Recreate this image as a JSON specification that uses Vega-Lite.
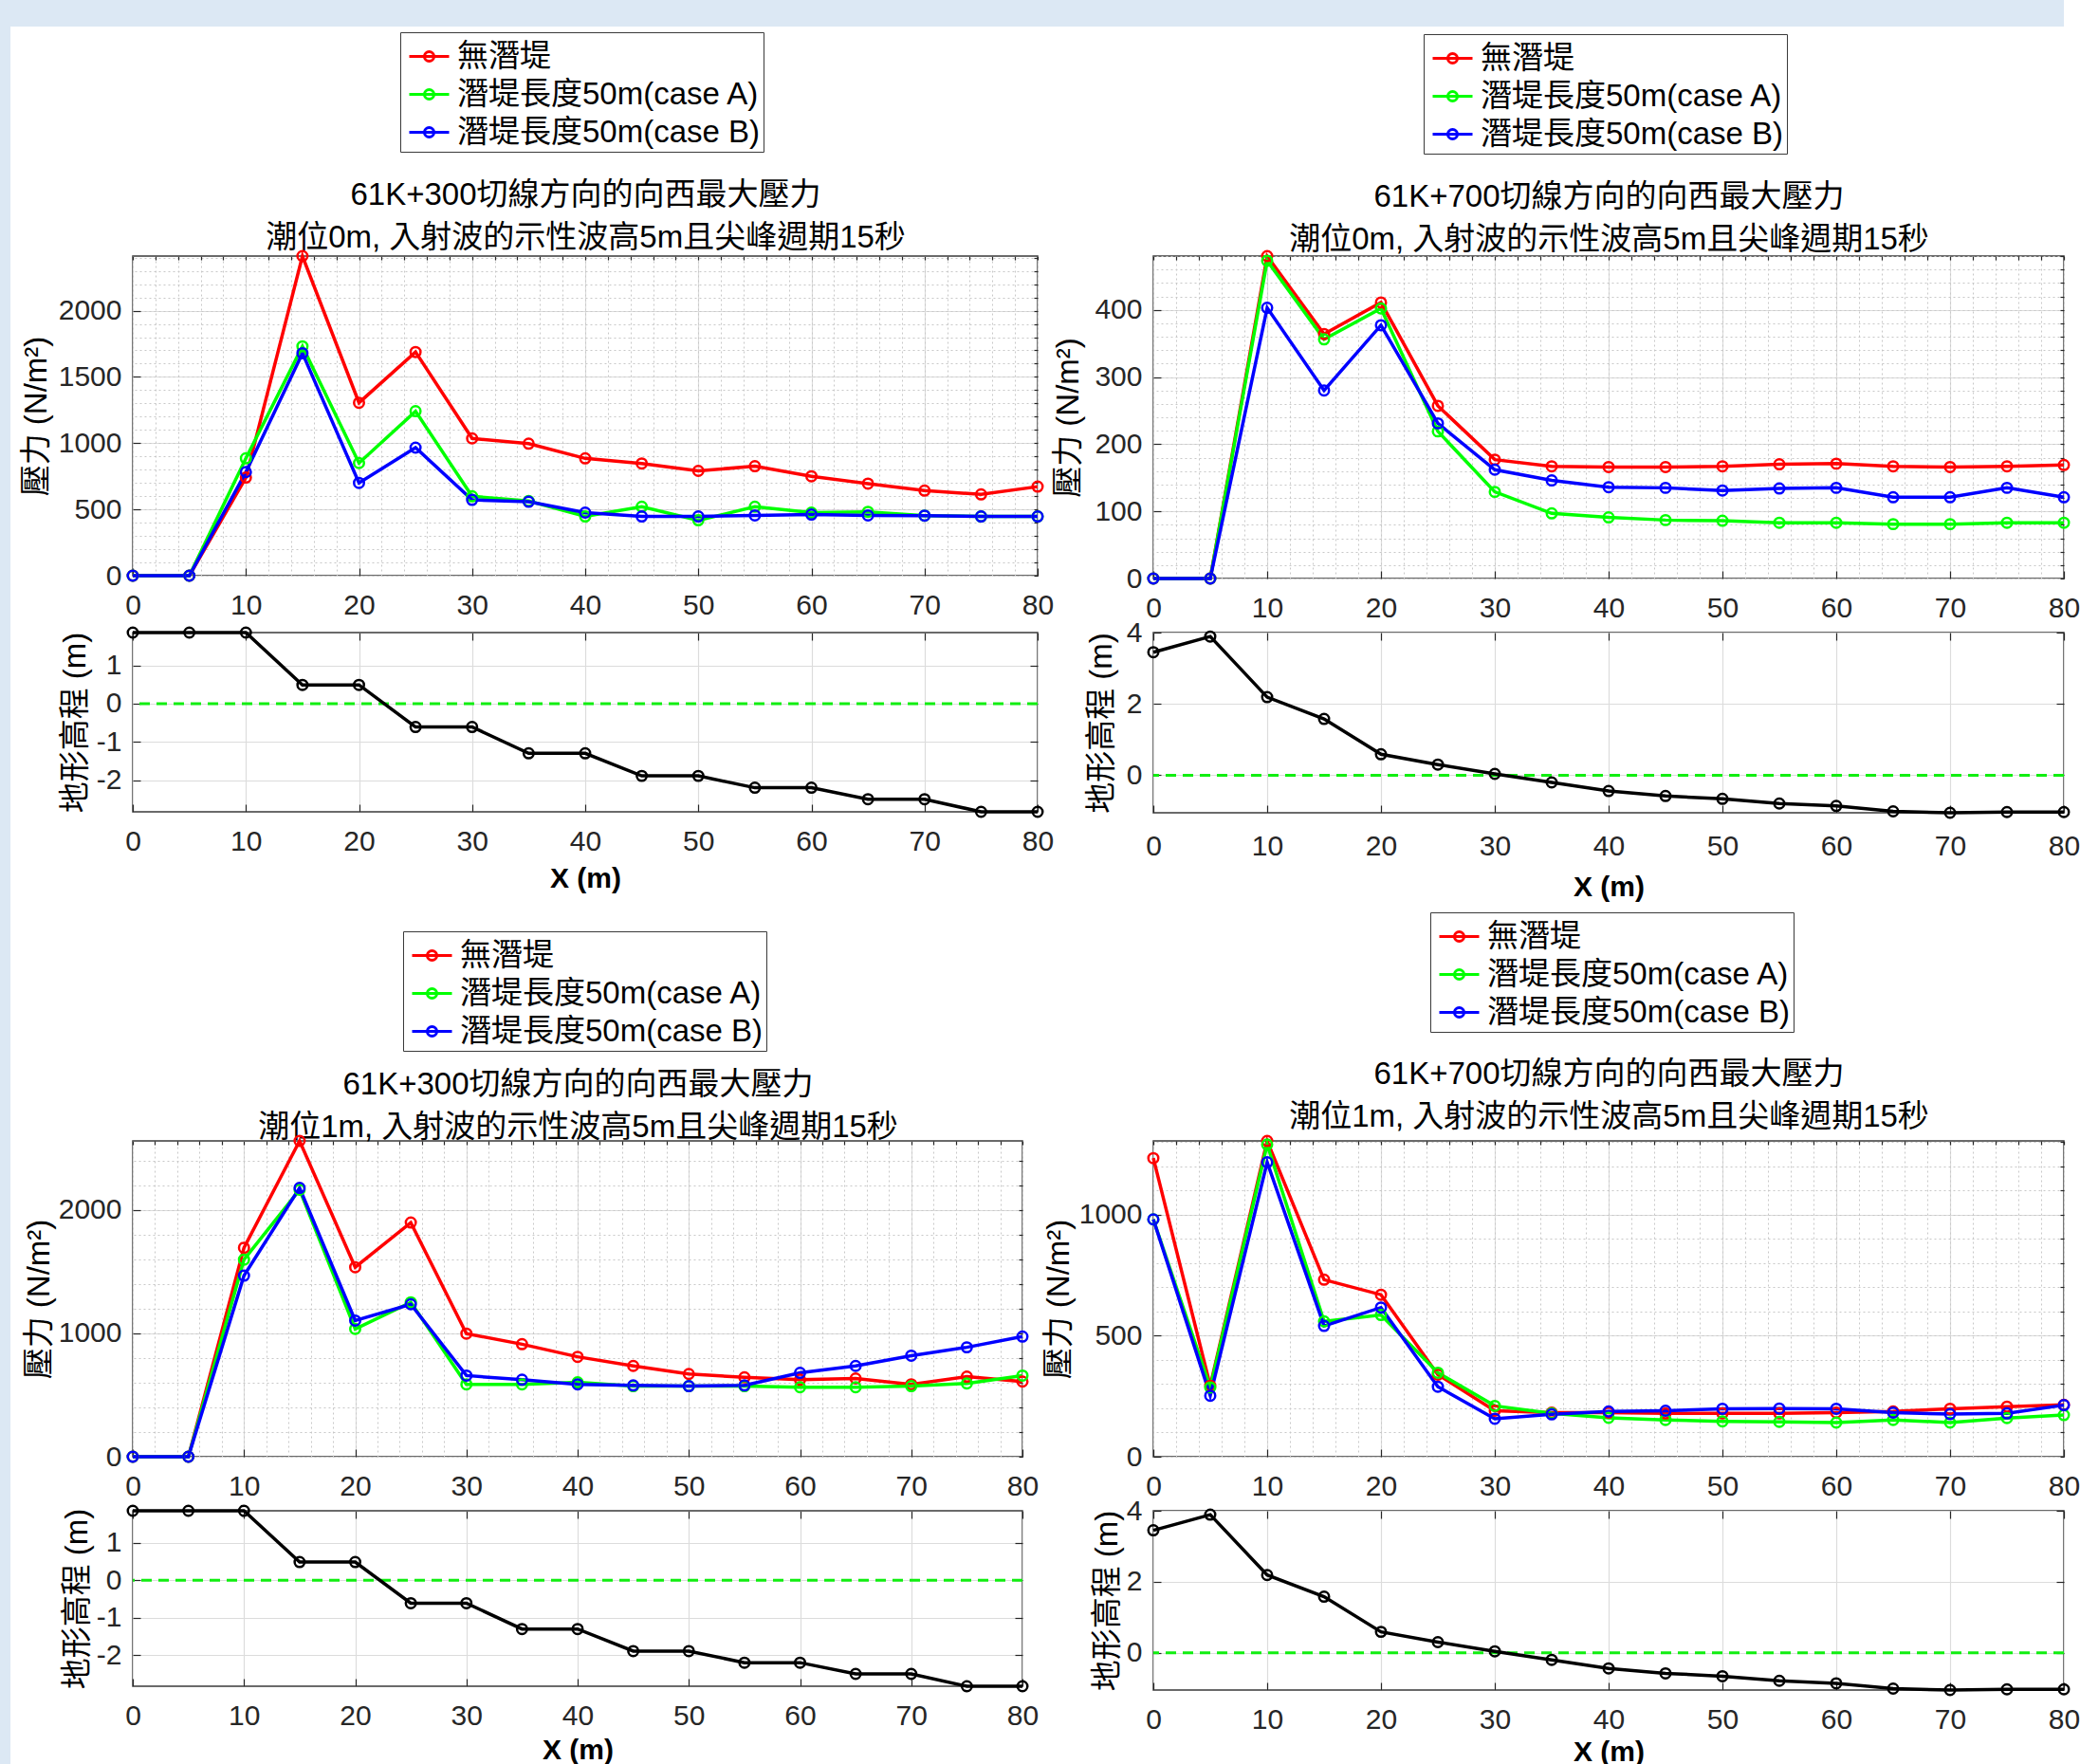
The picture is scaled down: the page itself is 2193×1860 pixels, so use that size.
{
"$schema": "https://vega.github.io/schema/vega-lite/v6.json",
"padding": 0,
"background": "#ffffff",
"columns": 5,
"align": "none",
"bounds": "flush",
"spacing": {"row": 0, "column": 0},
"resolve": {"scale": {"color": "independent"}, "legend": {"color": "independent"}},
"datasets": {
"pTL": [
{"x":0,"s":"無潛堤","v":0},{"x":5,"s":"無潛堤","v":0},{"x":10,"s":"無潛堤","v":740},{"x":15,"s":"無潛堤","v":2412},{"x":20,"s":"無潛堤","v":1305},{"x":25,"s":"無潛堤","v":1688},{"x":30,"s":"無潛堤","v":1036},{"x":35,"s":"無潛堤","v":996},{"x":40,"s":"無潛堤","v":885},{"x":45,"s":"無潛堤","v":847},{"x":50,"s":"無潛堤","v":791},{"x":55,"s":"無潛堤","v":826},{"x":60,"s":"無潛堤","v":750},{"x":65,"s":"無潛堤","v":695},{"x":70,"s":"無潛堤","v":642},{"x":75,"s":"無潛堤","v":613},{"x":80,"s":"無潛堤","v":672},
{"x":0,"s":"潛堤長度50m(case A)","v":0},{"x":5,"s":"潛堤長度50m(case A)","v":0},{"x":10,"s":"潛堤長度50m(case A)","v":885},{"x":15,"s":"潛堤長度50m(case A)","v":1731},{"x":20,"s":"潛堤長度50m(case A)","v":850},{"x":25,"s":"潛堤長度50m(case A)","v":1241},{"x":30,"s":"潛堤長度50m(case A)","v":599},{"x":35,"s":"潛堤長度50m(case A)","v":563},{"x":40,"s":"潛堤長度50m(case A)","v":447},{"x":45,"s":"潛堤長度50m(case A)","v":520},{"x":50,"s":"潛堤長度50m(case A)","v":418},{"x":55,"s":"潛堤長度50m(case A)","v":520},{"x":60,"s":"潛堤長度50m(case A)","v":476},{"x":65,"s":"潛堤長度50m(case A)","v":482},{"x":70,"s":"潛堤長度50m(case A)","v":453},{"x":75,"s":"潛堤長度50m(case A)","v":447},{"x":80,"s":"潛堤長度50m(case A)","v":447},
{"x":0,"s":"潛堤長度50m(case B)","v":0},{"x":5,"s":"潛堤長度50m(case B)","v":0},{"x":10,"s":"潛堤長度50m(case B)","v":782},{"x":15,"s":"潛堤長度50m(case B)","v":1679},{"x":20,"s":"潛堤長度50m(case B)","v":700},{"x":25,"s":"潛堤長度50m(case B)","v":966},{"x":30,"s":"潛堤長度50m(case B)","v":572},{"x":35,"s":"潛堤長度50m(case B)","v":558},{"x":40,"s":"潛堤長度50m(case B)","v":476},{"x":45,"s":"潛堤長度50m(case B)","v":447},{"x":50,"s":"潛堤長度50m(case B)","v":447},{"x":55,"s":"潛堤長度50m(case B)","v":455},{"x":60,"s":"潛堤長度50m(case B)","v":461},{"x":65,"s":"潛堤長度50m(case B)","v":455},{"x":70,"s":"潛堤長度50m(case B)","v":453},{"x":75,"s":"潛堤長度50m(case B)","v":447},{"x":80,"s":"潛堤長度50m(case B)","v":447}
],
"pTR": [
{"x":0,"s":"無潛堤","v":0},{"x":5,"s":"無潛堤","v":0},{"x":10,"s":"無潛堤","v":480},{"x":15,"s":"無潛堤","v":364},{"x":20,"s":"無潛堤","v":411},{"x":25,"s":"無潛堤","v":257},{"x":30,"s":"無潛堤","v":177},{"x":35,"s":"無潛堤","v":167},{"x":40,"s":"無潛堤","v":166},{"x":45,"s":"無潛堤","v":166},{"x":50,"s":"無潛堤","v":167},{"x":55,"s":"無潛堤","v":170},{"x":60,"s":"無潛堤","v":171},{"x":65,"s":"無潛堤","v":167},{"x":70,"s":"無潛堤","v":166},{"x":75,"s":"無潛堤","v":167},{"x":80,"s":"無潛堤","v":169},
{"x":0,"s":"潛堤長度50m(case A)","v":0},{"x":5,"s":"潛堤長度50m(case A)","v":0},{"x":10,"s":"潛堤長度50m(case A)","v":473},{"x":15,"s":"潛堤長度50m(case A)","v":356},{"x":20,"s":"潛堤長度50m(case A)","v":402},{"x":25,"s":"潛堤長度50m(case A)","v":219},{"x":30,"s":"潛堤長度50m(case A)","v":129},{"x":35,"s":"潛堤長度50m(case A)","v":97},{"x":40,"s":"潛堤長度50m(case A)","v":91},{"x":45,"s":"潛堤長度50m(case A)","v":87},{"x":50,"s":"潛堤長度50m(case A)","v":86},{"x":55,"s":"潛堤長度50m(case A)","v":83},{"x":60,"s":"潛堤長度50m(case A)","v":83},{"x":65,"s":"潛堤長度50m(case A)","v":81},{"x":70,"s":"潛堤長度50m(case A)","v":81},{"x":75,"s":"潛堤長度50m(case A)","v":83},{"x":80,"s":"潛堤長度50m(case A)","v":83},
{"x":0,"s":"潛堤長度50m(case B)","v":0},{"x":5,"s":"潛堤長度50m(case B)","v":0},{"x":10,"s":"潛堤長度50m(case B)","v":403},{"x":15,"s":"潛堤長度50m(case B)","v":280},{"x":20,"s":"潛堤長度50m(case B)","v":377},{"x":25,"s":"潛堤長度50m(case B)","v":231},{"x":30,"s":"潛堤長度50m(case B)","v":162},{"x":35,"s":"潛堤長度50m(case B)","v":146},{"x":40,"s":"潛堤長度50m(case B)","v":136},{"x":45,"s":"潛堤長度50m(case B)","v":135},{"x":50,"s":"潛堤長度50m(case B)","v":131},{"x":55,"s":"潛堤長度50m(case B)","v":134},{"x":60,"s":"潛堤長度50m(case B)","v":135},{"x":65,"s":"潛堤長度50m(case B)","v":121},{"x":70,"s":"潛堤長度50m(case B)","v":121},{"x":75,"s":"潛堤長度50m(case B)","v":135},{"x":80,"s":"潛堤長度50m(case B)","v":121}
],
"pBL": [
{"x":0,"s":"無潛堤","v":0},{"x":5,"s":"無潛堤","v":0},{"x":10,"s":"無潛堤","v":1694},{"x":15,"s":"無潛堤","v":2560},{"x":20,"s":"無潛堤","v":1536},{"x":25,"s":"無潛堤","v":1898},{"x":30,"s":"無潛堤","v":998},{"x":35,"s":"無潛堤","v":912},{"x":40,"s":"無潛堤","v":810},{"x":45,"s":"無潛堤","v":736},{"x":50,"s":"無潛堤","v":671},{"x":55,"s":"無潛堤","v":643},{"x":60,"s":"無潛堤","v":624},{"x":65,"s":"無潛堤","v":634},{"x":70,"s":"無潛堤","v":587},{"x":75,"s":"無潛堤","v":649},{"x":80,"s":"無潛堤","v":609},
{"x":0,"s":"潛堤長度50m(case A)","v":0},{"x":5,"s":"潛堤長度50m(case A)","v":0},{"x":10,"s":"潛堤長度50m(case A)","v":1598},{"x":15,"s":"潛堤長度50m(case A)","v":2164},{"x":20,"s":"潛堤長度50m(case A)","v":1036},{"x":25,"s":"潛堤長度50m(case A)","v":1252},{"x":30,"s":"潛堤長度50m(case A)","v":587},{"x":35,"s":"潛堤長度50m(case A)","v":587},{"x":40,"s":"潛堤長度50m(case A)","v":603},{"x":45,"s":"潛堤長度50m(case A)","v":572},{"x":50,"s":"潛堤長度50m(case A)","v":572},{"x":55,"s":"潛堤長度50m(case A)","v":572},{"x":60,"s":"潛堤長度50m(case A)","v":563},{"x":65,"s":"潛堤長度50m(case A)","v":563},{"x":70,"s":"潛堤長度50m(case A)","v":572},{"x":75,"s":"潛堤長度50m(case A)","v":594},{"x":80,"s":"潛堤長度50m(case A)","v":658},
{"x":0,"s":"潛堤長度50m(case B)","v":0},{"x":5,"s":"潛堤長度50m(case B)","v":0},{"x":10,"s":"潛堤長度50m(case B)","v":1468},{"x":15,"s":"潛堤長度50m(case B)","v":2179},{"x":20,"s":"潛堤長度50m(case B)","v":1104},{"x":25,"s":"潛堤長度50m(case B)","v":1236},{"x":30,"s":"潛堤長度50m(case B)","v":658},{"x":35,"s":"潛堤長度50m(case B)","v":624},{"x":40,"s":"潛堤長度50m(case B)","v":587},{"x":45,"s":"潛堤長度50m(case B)","v":578},{"x":50,"s":"潛堤長度50m(case B)","v":572},{"x":55,"s":"潛堤長度50m(case B)","v":578},{"x":60,"s":"潛堤長度50m(case B)","v":680},{"x":65,"s":"潛堤長度50m(case B)","v":736},{"x":70,"s":"潛堤長度50m(case B)","v":819},{"x":75,"s":"潛堤長度50m(case B)","v":887},{"x":80,"s":"潛堤長度50m(case B)","v":974}
],
"pBR": [
{"x":0,"s":"無潛堤","v":1233},{"x":5,"s":"無潛堤","v":293},{"x":10,"s":"無潛堤","v":1304},{"x":15,"s":"無潛堤","v":731},{"x":20,"s":"無潛堤","v":669},{"x":25,"s":"無潛堤","v":339},{"x":30,"s":"無潛堤","v":190},{"x":35,"s":"無潛堤","v":182},{"x":40,"s":"無潛堤","v":182},{"x":45,"s":"無潛堤","v":179},{"x":50,"s":"無潛堤","v":179},{"x":55,"s":"無潛堤","v":179},{"x":60,"s":"無潛堤","v":182},{"x":65,"s":"無潛堤","v":187},{"x":70,"s":"無潛堤","v":198},{"x":75,"s":"無潛堤","v":207},{"x":80,"s":"無潛堤","v":214},
{"x":0,"s":"潛堤長度50m(case A)","v":980},{"x":5,"s":"潛堤長度50m(case A)","v":286},{"x":10,"s":"潛堤長度50m(case A)","v":1289},{"x":15,"s":"潛堤長度50m(case A)","v":559},{"x":20,"s":"潛堤長度50m(case A)","v":585},{"x":25,"s":"潛堤長度50m(case A)","v":347},{"x":30,"s":"潛堤長度50m(case A)","v":210},{"x":35,"s":"潛堤長度50m(case A)","v":179},{"x":40,"s":"潛堤長度50m(case A)","v":161},{"x":45,"s":"潛堤長度50m(case A)","v":152},{"x":50,"s":"潛堤長度50m(case A)","v":146},{"x":55,"s":"潛堤長度50m(case A)","v":144},{"x":60,"s":"潛堤長度50m(case A)","v":141},{"x":65,"s":"潛堤長度50m(case A)","v":152},{"x":70,"s":"潛堤長度50m(case A)","v":141},{"x":75,"s":"潛堤長度50m(case A)","v":160},{"x":80,"s":"潛堤長度50m(case A)","v":172},
{"x":0,"s":"潛堤長度50m(case B)","v":980},{"x":5,"s":"潛堤長度50m(case B)","v":252},{"x":10,"s":"潛堤長度50m(case B)","v":1216},{"x":15,"s":"潛堤長度50m(case B)","v":540},{"x":20,"s":"潛堤長度50m(case B)","v":616},{"x":25,"s":"潛堤長度50m(case B)","v":289},{"x":30,"s":"潛堤長度50m(case B)","v":157},{"x":35,"s":"潛堤長度50m(case B)","v":175},{"x":40,"s":"潛堤長度50m(case B)","v":187},{"x":45,"s":"潛堤長度50m(case B)","v":190},{"x":50,"s":"潛堤長度50m(case B)","v":198},{"x":55,"s":"潛堤長度50m(case B)","v":199},{"x":60,"s":"潛堤長度50m(case B)","v":198},{"x":65,"s":"潛堤長度50m(case B)","v":182},{"x":70,"s":"潛堤長度50m(case B)","v":176},{"x":75,"s":"潛堤長度50m(case B)","v":179},{"x":80,"s":"潛堤長度50m(case B)","v":213}
],
"tL": [
{"x":0,"z":1.86},{"x":5,"z":1.86},{"x":10,"z":1.86},{"x":15,"z":0.49},{"x":20,"z":0.49},{"x":25,"z":-0.61},{"x":30,"z":-0.61},{"x":35,"z":-1.3},{"x":40,"z":-1.3},{"x":45,"z":-1.89},{"x":50,"z":-1.89},{"x":55,"z":-2.2},{"x":60,"z":-2.2},{"x":65,"z":-2.5},{"x":70,"z":-2.5},{"x":75,"z":-2.83},{"x":80,"z":-2.83}
],
"tR": [
{"x":0,"z":3.45},{"x":5,"z":3.89},{"x":10,"z":2.19},{"x":15,"z":1.58},{"x":20,"z":0.59},{"x":25,"z":0.3},{"x":30,"z":0.04},{"x":35,"z":-0.2},{"x":40,"z":-0.44},{"x":45,"z":-0.58},{"x":50,"z":-0.66},{"x":55,"z":-0.79},{"x":60,"z":-0.86},{"x":65,"z":-1.01},{"x":70,"z":-1.05},{"x":75,"z":-1.03},{"x":80,"z":-1.03}
],
"zero": [{"z": 0}]
},
"concat": [
{"width":11,"height":28,"view":{"fill":"#dce8f4"},"data":{"values":[]},"mark":"point","encoding":{}},
{"width":129,"height":28,"view":{"fill":"#dce8f4"},"data":{"values":[]},"mark":"point","encoding":{}},
{"width":954,"height":28,"view":{"fill":"#dce8f4"},"data":{"values":[]},"mark":"point","encoding":{}},
{"width":122,"height":28,"view":{"fill":"#dce8f4"},"data":{"values":[]},"mark":"point","encoding":{}},
{"width":960,"height":28,"view":{"fill":"#dce8f4"},"data":{"values":[]},"mark":"point","encoding":{}},

{"width":11,"height":242,"view":{"fill":"#dce8f4"},"data":{"values":[]},"mark":"point","encoding":{}},
{"width":129,"height":242,"data":{"values":[]},"mark":"point","encoding":{}},
{"width":954,"height":242,"data":{"values":[]},"mark":"point","encoding":{}},
{"width":122,"height":242,"data":{"values":[]},"mark":"point","encoding":{}},
{"width":960,"height":242,"data":{"values":[]},"mark":"point","encoding":{}},

{"width":11,"height":340,"view":{"fill":"#dce8f4"},"data":{"values":[]},"mark":"point","encoding":{}},
{"width":129,"height":340,"data":{"values":[]},"mark":"point","encoding":{}},
{"width":954,"height":337,"data":{"name":"pTL"},"view":{"stroke":"#3a3a3a","strokeWidth":1.5},
 "resolve":{"axis":{"x":"independent","y":"independent"}},
 "layer":[
  {"mark":{"type":"line","strokeWidth":3.5},
   "encoding":{
    "x":{"field":"x","type":"quantitative","scale":{"domain":[0,80],"nice":false,"zero":false},"axis":{"orient":"bottom","values":[0,10,20,30,40,50,60,70,80],"grid":true,"tickSize":-8,"labelPadding":24,"title":null}},
    "y":{"field":"v","type":"quantitative","scale":{"domain":[0,2412],"nice":false,"zero":false},"axis":{"orient":"left","values":[0,500,1000,1500,2000],"format":"d","grid":true,"tickSize":-8,"labelPadding":20,"title":"壓力 (N/m²)","titlePadding":6}},
    "color":{"field":"s","type":"nominal","scale":{"domain":["無潛堤","潛堤長度50m(case A)","潛堤長度50m(case B)"],"range":["#ff0000","#00ff00","#0000ff"]},"legend":{"orient":"none","legendX":282,"legendY":-236,"title":null,"direction":"vertical"}}}},
  {"mark":{"type":"point","filled":false,"size":110,"strokeWidth":2.5,"opacity":1},
   "encoding":{
    "x":{"field":"x","type":"quantitative","scale":{"domain":[0,80],"nice":false,"zero":false},"axis":{"orient":"top","values":[0,2,4,6,8,10,12,14,16,18,20,22,24,26,28,30,32,34,36,38,40,42,44,46,48,50,52,54,56,58,60,62,64,66,68,70,72,74,76,78,80],"grid":true,"gridDash":[2,3],"gridColor":"#c8c8c8","gridWidth":1,"tickSize":-4,"labels":false,"title":["61K+300切線方向的向西最大壓力","潮位0m, 入射波的示性波高5m且尖峰週期15秒"],"titleFontSize":33,"titleLineHeight":45,"titlePadding":2}},
    "y":{"field":"v","type":"quantitative","scale":{"domain":[0,2412],"nice":false,"zero":false},"axis":{"orient":"right","values":[0,100,200,300,400,500,600,700,800,900,1000,1100,1200,1300,1400,1500,1600,1700,1800,1900,2000,2100,2200,2300,2400],"grid":true,"gridDash":[2,3],"gridColor":"#c8c8c8","gridWidth":1,"tickSize":-4,"labels":false,"title":null}},
    "color":{"field":"s","type":"nominal","scale":{"domain":["無潛堤","潛堤長度50m(case A)","潛堤長度50m(case B)"],"range":["#ff0000","#00ff00","#0000ff"]},"legend":{"orient":"none","legendX":282,"legendY":-236,"title":null,"direction":"vertical"}}}}
 ]},
{"width":122,"height":340,"data":{"values":[]},"mark":"point","encoding":{}},
{"width":960,"height":340,"data":{"name":"pTR"},"view":{"stroke":"#3a3a3a","strokeWidth":1.5},
 "resolve":{"axis":{"x":"independent","y":"independent"}},
 "layer":[
  {"mark":{"type":"line","strokeWidth":3.5},
   "encoding":{
    "x":{"field":"x","type":"quantitative","scale":{"domain":[0,80],"nice":false,"zero":false},"axis":{"orient":"bottom","values":[0,10,20,30,40,50,60,70,80],"grid":true,"tickSize":-8,"labelPadding":24,"title":null}},
    "y":{"field":"v","type":"quantitative","scale":{"domain":[0,480],"nice":false,"zero":false},"axis":{"orient":"left","values":[0,100,200,300,400],"format":"d","grid":true,"tickSize":-8,"labelPadding":20,"title":"壓力 (N/m²)","titlePadding":10}},
    "color":{"field":"s","type":"nominal","scale":{"domain":["無潛堤","潛堤長度50m(case A)","潛堤長度50m(case B)"],"range":["#ff0000","#00ff00","#0000ff"]},"legend":{"orient":"none","legendX":285,"legendY":-234,"title":null,"direction":"vertical"}}}},
  {"mark":{"type":"point","filled":false,"size":110,"strokeWidth":2.5,"opacity":1},
   "encoding":{
    "x":{"field":"x","type":"quantitative","scale":{"domain":[0,80],"nice":false,"zero":false},"axis":{"orient":"top","values":[0,2,4,6,8,10,12,14,16,18,20,22,24,26,28,30,32,34,36,38,40,42,44,46,48,50,52,54,56,58,60,62,64,66,68,70,72,74,76,78,80],"grid":true,"gridDash":[2,3],"gridColor":"#c8c8c8","gridWidth":1,"tickSize":-4,"labels":false,"title":["61K+700切線方向的向西最大壓力","潮位0m, 入射波的示性波高5m且尖峰週期15秒"],"titleFontSize":33,"titleLineHeight":45,"titlePadding":0}},
    "y":{"field":"v","type":"quantitative","scale":{"domain":[0,480],"nice":false,"zero":false},"axis":{"orient":"right","values":[0,20,40,60,80,100,120,140,160,180,200,220,240,260,280,300,320,340,360,380,400,420,440,460,480],"grid":true,"gridDash":[2,3],"gridColor":"#c8c8c8","gridWidth":1,"tickSize":-4,"labels":false,"title":null}},
    "color":{"field":"s","type":"nominal","scale":{"domain":["無潛堤","潛堤長度50m(case A)","潛堤長度50m(case B)"],"range":["#ff0000","#00ff00","#0000ff"]},"legend":{"orient":"none","legendX":285,"legendY":-234,"title":null,"direction":"vertical"}}}}
 ]},

{"width":11,"height":57,"view":{"fill":"#dce8f4"},"data":{"values":[]},"mark":"point","encoding":{}},
{"width":129,"height":57,"data":{"values":[]},"mark":"point","encoding":{}},
{"width":954,"height":57,"data":{"values":[]},"mark":"point","encoding":{}},
{"width":122,"height":57,"data":{"values":[]},"mark":"point","encoding":{}},
{"width":960,"height":57,"data":{"values":[]},"mark":"point","encoding":{}},

{"width":11,"height":190,"view":{"fill":"#dce8f4"},"data":{"values":[]},"mark":"point","encoding":{}},
{"width":129,"height":190,"data":{"values":[]},"mark":"point","encoding":{}},
{"width":954,"height":189,"view":{"stroke":"#3a3a3a","strokeWidth":1.5},
 "resolve":{"axis":{"x":"independent","y":"independent"}},
 "layer":[
  {"data":{"name":"zero"},"mark":{"type":"rule","color":"#11ee11","strokeWidth":3,"strokeDash":[11,7]},
   "encoding":{"y":{"field":"z","type":"quantitative","scale":{"domain":[-2.83,1.86],"nice":false,"zero":false},"axis":null}}},
  {"data":{"name":"tL"},"mark":{"type":"line","color":"#000000","strokeWidth":3.5},
   "encoding":{
    "x":{"field":"x","type":"quantitative","scale":{"domain":[0,80],"nice":false,"zero":false},"axis":{"orient":"bottom","values":[0,10,20,30,40,50,60,70,80],"grid":true,"tickSize":-8,"labelPadding":24,"title":"X (m)","titleFont":"Liberation Sans","titleFontWeight":"bold","titleFontSize":30,"titlePadding":9}},
    "y":{"field":"z","type":"quantitative","scale":{"domain":[-2.83,1.86],"nice":false,"zero":false},"axis":{"orient":"left","values":[-2,-1,0,1],"labelExpr":"replace(datum.label, '−', '-')","grid":true,"tickSize":-8,"labelPadding":20,"title":"地形高程 (m)","titlePadding":5}}}},
  {"data":{"name":"tL"},"mark":{"type":"point","filled":false,"color":"#000000","size":110,"strokeWidth":2.5,"opacity":1},
   "encoding":{
    "x":{"field":"x","type":"quantitative","scale":{"domain":[0,80],"nice":false,"zero":false},"axis":{"orient":"top","values":[0,10,20,30,40,50,60,70,80],"grid":false,"tickSize":-8,"labels":false,"title":null}},
    "y":{"field":"z","type":"quantitative","scale":{"domain":[-2.83,1.86],"nice":false,"zero":false},"axis":{"orient":"right","values":[-2,-1,0,1],"grid":false,"tickSize":-8,"labels":false,"title":null}}}}
 ]},
{"width":122,"height":190,"data":{"values":[]},"mark":"point","encoding":{}},
{"width":960,"height":190,"view":{"stroke":"#3a3a3a","strokeWidth":1.5},
 "resolve":{"axis":{"x":"independent","y":"independent"}},
 "layer":[
  {"data":{"name":"zero"},"mark":{"type":"rule","color":"#11ee11","strokeWidth":3,"strokeDash":[11,7]},
   "encoding":{"y":{"field":"z","type":"quantitative","scale":{"domain":[-1.05,4],"nice":false,"zero":false},"axis":null}}},
  {"data":{"name":"tR"},"mark":{"type":"line","color":"#000000","strokeWidth":3.5},
   "encoding":{
    "x":{"field":"x","type":"quantitative","scale":{"domain":[0,80],"nice":false,"zero":false},"axis":{"orient":"bottom","values":[0,10,20,30,40,50,60,70,80],"grid":true,"tickSize":-8,"labelPadding":28,"title":"X (m)","titleFont":"Liberation Sans","titleFontWeight":"bold","titleFontSize":30,"titlePadding":13}},
    "y":{"field":"z","type":"quantitative","scale":{"domain":[-1.05,4],"nice":false,"zero":false},"axis":{"orient":"left","values":[0,2,4],"grid":true,"tickSize":-8,"labelPadding":20,"title":"地形高程 (m)","titlePadding":9}}}},
  {"data":{"name":"tR"},"mark":{"type":"point","filled":false,"color":"#000000","size":110,"strokeWidth":2.5,"opacity":1},
   "encoding":{
    "x":{"field":"x","type":"quantitative","scale":{"domain":[0,80],"nice":false,"zero":false},"axis":{"orient":"top","values":[0,10,20,30,40,50,60,70,80],"grid":false,"tickSize":-8,"labels":false,"title":null}},
    "y":{"field":"z","type":"quantitative","scale":{"domain":[-1.05,4],"nice":false,"zero":false},"axis":{"orient":"right","values":[0,2,4],"grid":false,"tickSize":-8,"labels":false,"title":null}}}}
 ]},

{"width":11,"height":57,"view":{"fill":"#dce8f4"},"data":{"values":[]},"mark":"point","encoding":{}},
{"width":129,"height":57,"data":{"values":[]},"mark":"point","encoding":{}},
{"width":954,"height":57,"data":{"values":[]},"mark":"point","encoding":{}},
{"width":122,"height":57,"data":{"values":[]},"mark":"point","encoding":{}},
{"width":960,"height":57,"data":{"values":[]},"mark":"point","encoding":{}},

{"width":11,"height":232,"view":{"fill":"#dce8f4"},"data":{"values":[]},"mark":"point","encoding":{}},
{"width":129,"height":232,"data":{"values":[]},"mark":"point","encoding":{}},
{"width":954,"height":232,"data":{"values":[]},"mark":"point","encoding":{}},
{"width":122,"height":232,"data":{"values":[]},"mark":"point","encoding":{}},
{"width":960,"height":232,"data":{"values":[]},"mark":"point","encoding":{}},

{"width":11,"height":57,"view":{"fill":"#dce8f4"},"data":{"values":[]},"mark":"point","encoding":{}},
{"width":129,"height":57,"data":{"values":[]},"mark":"point","encoding":{}},
{"width":954,"height":57,"data":{"values":[]},"mark":"point","encoding":{}},
{"width":122,"height":57,"data":{"values":[]},"mark":"point","encoding":{}},
{"width":960,"height":57,"data":{"values":[]},"mark":"point","encoding":{}},

{"width":11,"height":333,"view":{"fill":"#dce8f4"},"data":{"values":[]},"mark":"point","encoding":{}},
{"width":129,"height":333,"data":{"values":[]},"mark":"point","encoding":{}},
{"width":938,"height":333,"data":{"name":"pBL"},"view":{"stroke":"#3a3a3a","strokeWidth":1.5},
 "resolve":{"axis":{"x":"independent","y":"independent"}},
 "layer":[
  {"mark":{"type":"line","strokeWidth":3.5},
   "encoding":{
    "x":{"field":"x","type":"quantitative","scale":{"domain":[0,80],"nice":false,"zero":false},"axis":{"orient":"bottom","values":[0,10,20,30,40,50,60,70,80],"grid":true,"tickSize":-8,"labelPadding":24,"title":null}},
    "y":{"field":"v","type":"quantitative","scale":{"domain":[0,2560],"nice":false,"zero":false},"axis":{"orient":"left","values":[0,1000,2000],"format":"d","grid":true,"tickSize":-8,"labelPadding":20,"title":"壓力 (N/m²)","titlePadding":3}},
    "color":{"field":"s","type":"nominal","scale":{"domain":["無潛堤","潛堤長度50m(case A)","潛堤長度50m(case B)"],"range":["#ff0000","#00ff00","#0000ff"]},"legend":{"orient":"none","legendX":285,"legendY":-221,"title":null,"direction":"vertical"}}}},
  {"mark":{"type":"point","filled":false,"size":110,"strokeWidth":2.5,"opacity":1},
   "encoding":{
    "x":{"field":"x","type":"quantitative","scale":{"domain":[0,80],"nice":false,"zero":false},"axis":{"orient":"top","values":[0,2,4,6,8,10,12,14,16,18,20,22,24,26,28,30,32,34,36,38,40,42,44,46,48,50,52,54,56,58,60,62,64,66,68,70,72,74,76,78,80],"grid":true,"gridDash":[2,3],"gridColor":"#c8c8c8","gridWidth":1,"tickSize":-4,"labels":false,"title":["61K+300切線方向的向西最大壓力","潮位1m, 入射波的示性波高5m且尖峰週期15秒"],"titleFontSize":33,"titleLineHeight":45,"titlePadding":-3}},
    "y":{"field":"v","type":"quantitative","scale":{"domain":[0,2560],"nice":false,"zero":false},"axis":{"orient":"right","values":[0,200,400,600,800,1000,1200,1400,1600,1800,2000,2200,2400],"grid":true,"gridDash":[2,3],"gridColor":"#c8c8c8","gridWidth":1,"tickSize":-4,"labels":false,"title":null}},
    "color":{"field":"s","type":"nominal","scale":{"domain":["無潛堤","潛堤長度50m(case A)","潛堤長度50m(case B)"],"range":["#ff0000","#00ff00","#0000ff"]},"legend":{"orient":"none","legendX":285,"legendY":-221,"title":null,"direction":"vertical"}}}}
 ]},
{"width":122,"height":333,"data":{"values":[]},"mark":"point","encoding":{}},
{"width":960,"height":333,"data":{"name":"pBR"},"view":{"stroke":"#3a3a3a","strokeWidth":1.5},
 "resolve":{"axis":{"x":"independent","y":"independent"}},
 "layer":[
  {"mark":{"type":"line","strokeWidth":3.5},
   "encoding":{
    "x":{"field":"x","type":"quantitative","scale":{"domain":[0,80],"nice":false,"zero":false},"axis":{"orient":"bottom","values":[0,10,20,30,40,50,60,70,80],"grid":true,"tickSize":-8,"labelPadding":24,"title":null}},
    "y":{"field":"v","type":"quantitative","scale":{"domain":[0,1304],"nice":false,"zero":false},"axis":{"orient":"left","values":[0,500,1000],"format":"d","grid":true,"tickSize":-8,"labelPadding":20,"title":"壓力 (N/m²)","titlePadding":4}},
    "color":{"field":"s","type":"nominal","scale":{"domain":["無潛堤","潛堤長度50m(case A)","潛堤長度50m(case B)"],"range":["#ff0000","#00ff00","#0000ff"]},"legend":{"orient":"none","legendX":292,"legendY":-241,"title":null,"direction":"vertical"}}}},
  {"mark":{"type":"point","filled":false,"size":110,"strokeWidth":2.5,"opacity":1},
   "encoding":{
    "x":{"field":"x","type":"quantitative","scale":{"domain":[0,80],"nice":false,"zero":false},"axis":{"orient":"top","values":[0,2,4,6,8,10,12,14,16,18,20,22,24,26,28,30,32,34,36,38,40,42,44,46,48,50,52,54,56,58,60,62,64,66,68,70,72,74,76,78,80],"grid":true,"gridDash":[2,3],"gridColor":"#c8c8c8","gridWidth":1,"tickSize":-4,"labels":false,"title":["61K+700切線方向的向西最大壓力","潮位1m, 入射波的示性波高5m且尖峰週期15秒"],"titleFontSize":33,"titleLineHeight":45,"titlePadding":8}},
    "y":{"field":"v","type":"quantitative","scale":{"domain":[0,1304],"nice":false,"zero":false},"axis":{"orient":"right","values":[0,100,200,300,400,500,600,700,800,900,1000,1100,1200,1300],"grid":true,"gridDash":[2,3],"gridColor":"#c8c8c8","gridWidth":1,"tickSize":-4,"labels":false,"title":null}},
    "color":{"field":"s","type":"nominal","scale":{"domain":["無潛堤","潛堤長度50m(case A)","潛堤長度50m(case B)"],"range":["#ff0000","#00ff00","#0000ff"]},"legend":{"orient":"none","legendX":292,"legendY":-241,"title":null,"direction":"vertical"}}}}
 ]},

{"width":11,"height":57,"view":{"fill":"#dce8f4"},"data":{"values":[]},"mark":"point","encoding":{}},
{"width":129,"height":57,"data":{"values":[]},"mark":"point","encoding":{}},
{"width":954,"height":57,"data":{"values":[]},"mark":"point","encoding":{}},
{"width":122,"height":57,"data":{"values":[]},"mark":"point","encoding":{}},
{"width":960,"height":57,"data":{"values":[]},"mark":"point","encoding":{}},

{"width":11,"height":189,"view":{"fill":"#dce8f4"},"data":{"values":[]},"mark":"point","encoding":{}},
{"width":129,"height":189,"data":{"values":[]},"mark":"point","encoding":{}},
{"width":938,"height":185,"view":{"stroke":"#3a3a3a","strokeWidth":1.5},
 "resolve":{"axis":{"x":"independent","y":"independent"}},
 "layer":[
  {"data":{"name":"zero"},"mark":{"type":"rule","color":"#11ee11","strokeWidth":3,"strokeDash":[11,7]},
   "encoding":{"y":{"field":"z","type":"quantitative","scale":{"domain":[-2.83,1.86],"nice":false,"zero":false},"axis":null}}},
  {"data":{"name":"tL"},"mark":{"type":"line","color":"#000000","strokeWidth":3.5},
   "encoding":{
    "x":{"field":"x","type":"quantitative","scale":{"domain":[0,80],"nice":false,"zero":false},"axis":{"orient":"bottom","values":[0,10,20,30,40,50,60,70,80],"grid":true,"tickSize":-8,"labelPadding":24,"title":"X (m)","titleFont":"Liberation Sans","titleFontWeight":"bold","titleFontSize":30,"titlePadding":6}},
    "y":{"field":"z","type":"quantitative","scale":{"domain":[-2.83,1.86],"nice":false,"zero":false},"axis":{"orient":"left","values":[-2,-1,0,1],"labelExpr":"replace(datum.label, '−', '-')","grid":true,"tickSize":-8,"labelPadding":20,"title":"地形高程 (m)","titlePadding":3}}}},
  {"data":{"name":"tL"},"mark":{"type":"point","filled":false,"color":"#000000","size":110,"strokeWidth":2.5,"opacity":1},
   "encoding":{
    "x":{"field":"x","type":"quantitative","scale":{"domain":[0,80],"nice":false,"zero":false},"axis":{"orient":"top","values":[0,10,20,30,40,50,60,70,80],"grid":false,"tickSize":-8,"labels":false,"title":null}},
    "y":{"field":"z","type":"quantitative","scale":{"domain":[-2.83,1.86],"nice":false,"zero":false},"axis":{"orient":"right","values":[-2,-1,0,1],"grid":false,"tickSize":-8,"labels":false,"title":null}}}}
 ]},
{"width":122,"height":189,"data":{"values":[]},"mark":"point","encoding":{}},
{"width":960,"height":189,"view":{"stroke":"#3a3a3a","strokeWidth":1.5},
 "resolve":{"axis":{"x":"independent","y":"independent"}},
 "layer":[
  {"data":{"name":"zero"},"mark":{"type":"rule","color":"#11ee11","strokeWidth":3,"strokeDash":[11,7]},
   "encoding":{"y":{"field":"z","type":"quantitative","scale":{"domain":[-1.05,4],"nice":false,"zero":false},"axis":null}}},
  {"data":{"name":"tR"},"mark":{"type":"line","color":"#000000","strokeWidth":3.5},
   "encoding":{
    "x":{"field":"x","type":"quantitative","scale":{"domain":[0,80],"nice":false,"zero":false},"axis":{"orient":"bottom","values":[0,10,20,30,40,50,60,70,80],"grid":true,"tickSize":-8,"labelPadding":24,"title":"X (m)","titleFont":"Liberation Sans","titleFontWeight":"bold","titleFontSize":30,"titlePadding":4}},
    "y":{"field":"z","type":"quantitative","scale":{"domain":[-1.05,4],"nice":false,"zero":false},"axis":{"orient":"left","values":[0,2,4],"grid":true,"tickSize":-8,"labelPadding":20,"title":"地形高程 (m)","titlePadding":3}}}},
  {"data":{"name":"tR"},"mark":{"type":"point","filled":false,"color":"#000000","size":110,"strokeWidth":2.5,"opacity":1},
   "encoding":{
    "x":{"field":"x","type":"quantitative","scale":{"domain":[0,80],"nice":false,"zero":false},"axis":{"orient":"top","values":[0,10,20,30,40,50,60,70,80],"grid":false,"tickSize":-8,"labels":false,"title":null}},
    "y":{"field":"z","type":"quantitative","scale":{"domain":[-1.05,4],"nice":false,"zero":false},"axis":{"orient":"right","values":[0,2,4],"grid":false,"tickSize":-8,"labels":false,"title":null}}}}
 ]},

{"width":11,"height":78,"view":{"fill":"#dce8f4"},"data":{"values":[]},"mark":"point","encoding":{}},
{"width":129,"height":78,"data":{"values":[]},"mark":"point","encoding":{}},
{"width":954,"height":78,"data":{"values":[]},"mark":"point","encoding":{}},
{"width":122,"height":78,"data":{"values":[]},"mark":"point","encoding":{}},
{"width":960,"height":78,"data":{"values":[]},"mark":"point","encoding":{}}
],
"config": {
 "view": {"stroke": null},
 "font": "Liberation Sans",
 "axis": {"labelFont": "Liberation Sans", "labelFontSize": 30, "labelColor": "#262626", "labelFlush": false, "labelOverlap": false, "domain": false, "tickColor": "#262626", "tickWidth": 1.2, "gridColor": "#dcdcdc", "gridWidth": 1.2, "titleFont": "Liberation Sans, Noto Sans CJK TC", "titleFontWeight": "normal", "titleColor": "#000000", "titleFontSize": 33},
 "legend": {"labelFont": "Liberation Sans, Noto Sans CJK TC", "labelFontSize": 33, "labelColor": "#000000", "labelLimit": 600, "symbolSize": 1764, "symbolStrokeWidth": 3, "symbolType": "M-1,0H1M0.24,0A0.24,0.24,0,1,1,-0.24,0A0.24,0.24,0,1,1,0.24,0", "symbolFillColor": "transparent", "symbolOffset": 5, "padding": 3, "rowPadding": 0, "strokeColor": "#3a3a3a", "fillColor": "#ffffff", "labelOffset": 7}
}
}
